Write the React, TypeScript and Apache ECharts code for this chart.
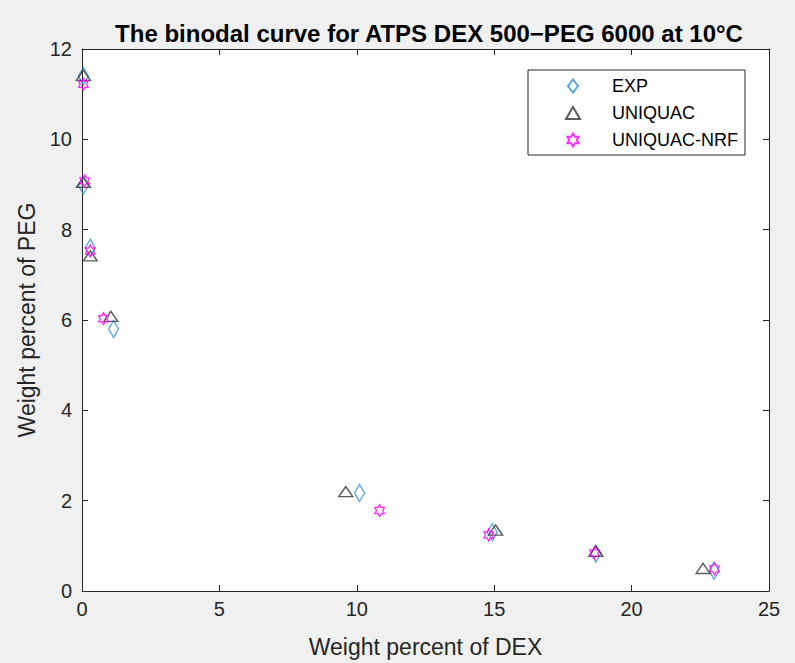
import React, { useEffect, useRef } from "react";
import * as echarts from "echarts";

const expData: [number, number][] = [
  [0.05, 11.4], [0.05, 8.98], [0.3, 7.6], [1.15, 5.8], [10.1, 2.17], [14.93, 1.3], [18.7, 0.83], [23.0, 0.45],
];
const uniquacData: [number, number][] = [
  [0.05, 11.42], [0.05, 9.05], [0.3, 7.42], [1.05, 6.08], [9.6, 2.2], [15.05, 1.35], [18.7, 0.88], [22.6, 0.5],
];
const nrfData: [number, number][] = [
  [0.05, 11.22], [0.1, 9.08], [0.3, 7.53], [0.78, 6.03], [10.83, 1.78], [14.8, 1.24], [18.65, 0.84], [23.02, 0.49],
];
const xTicks = [0, 5, 10, 15, 20, 25];
const yTicks = [0, 2, 4, 6, 8, 10, 12];

const HEX =
  "path://M100,0 L128.87,50 L186.6,50 L157.7,100 L186.6,150 L128.87,150 L100,200 L71.13,150 L13.4,150 L42.3,100 L13.4,50 L71.13,50 Z";
const DIA = "path://M50,0 L100,65 L50,130 L0,65 Z";
const TRI = "path://M65,0 L130,110 L0,110 Z";

const FONT = "'Liberation Sans', Arial, Helvetica, sans-serif";
const AX = "#262626";

export default function App() {
  const ref = useRef<HTMLDivElement>(null);
  useEffect(() => {
    document.body.style.margin = "0";
    const chart = echarts.init(ref.current!, null, { renderer: "svg" });
    const axisCommon = {
      axisLine: { show: true, onZero: false, lineStyle: { color: AX, width: 1 } },
      axisTick: { show: true, inside: true, length: 6, lineStyle: { color: AX } },
      splitLine: { show: false },
    };
    chart.setOption({
      animation: false,
      backgroundColor: "#f0f0f0",
      textStyle: { fontFamily: FONT },
      title: {
        text: "The binodal curve for ATPS DEX 500\u2212PEG 6000 at 10\u00b0C",
        left: 424,
        textAlign: "center",
        top: 16,
        textStyle: { fontFamily: FONT, fontSize: 24, fontWeight: "bold", color: "#000" },
      },
      grid: { left: 82, right: 26, top: 49, bottom: 71, show: true, backgroundColor: "#fff", borderWidth: 0 },
      legend: {
        orient: "vertical",
        left: 528,
        top: 70,
        padding: [7, 7, 6, 37],
        itemGap: 9,
        itemWidth: 14,
        itemHeight: 13,
        symbolKeepAspect: true,
        backgroundColor: "#fff",
        borderColor: AX,
        borderWidth: 1,
        textStyle: { fontFamily: FONT, fontSize: 18, color: "#000", padding: [0, 0, 0, 27] },
        data: ["EXP", "UNIQUAC", "UNIQUAC-NRF"],
      },
      xAxis: [
        {
          type: "value",
          min: 0,
          max: 25,
          interval: 5,
          position: "bottom",
          ...axisCommon,
          axisLabel: { color: AX, fontSize: 20, margin: 8, fontFamily: FONT, customValues: xTicks },
          name: "Weight percent of DEX",
          nameLocation: "middle",
          nameGap: 44,
          nameTextStyle: { color: AX, fontSize: 23, fontFamily: FONT },
        },
        {
          type: "value",
          min: 0,
          max: 25,
          interval: 5,
          position: "top",
          ...axisCommon,
          axisLabel: { show: false },
        },
      ],
      yAxis: [
        {
          type: "value",
          min: 0,
          max: 12,
          interval: 2,
          position: "left",
          ...axisCommon,
          axisLabel: { color: AX, fontSize: 20, margin: 10, fontFamily: FONT, customValues: yTicks },
          name: "Weight percent of PEG",
          nameLocation: "middle",
          nameGap: 37,
          nameTextStyle: { color: AX, fontSize: 23, fontFamily: FONT },
        },
        {
          type: "value",
          min: 0,
          max: 12,
          interval: 2,
          position: "right",
          ...axisCommon,
          axisLabel: { show: false },
        },
      ],
      series: [
        {
          name: "EXP",
          type: "scatter",
          data: expData,
          symbol: DIA,
          symbolKeepAspect: true,
          symbolSize: [13, 17],
          itemStyle: { color: "rgba(0,0,0,0)", borderColor: "#2f8fd8", borderWidth: 1.4 },
        },
        {
          name: "UNIQUAC",
          type: "scatter",
          data: uniquacData,
          symbol: TRI,
          symbolKeepAspect: true,
          symbolSize: [14, 12],
          itemStyle: { color: "rgba(0,0,0,0)", borderColor: "#333333", borderWidth: 1.4 },
        },
        {
          name: "UNIQUAC-NRF",
          type: "scatter",
          data: nrfData,
          symbol: HEX,
          symbolKeepAspect: true,
          symbolSize: [11, 12],
          itemStyle: { color: "rgba(0,0,0,0)", borderColor: "#ff00ff", borderWidth: 1.4 },
        },
      ],
    });
    return () => chart.dispose();
  }, []);
  return <div ref={ref} style={{ width: 795, height: 663 }} />;
}
